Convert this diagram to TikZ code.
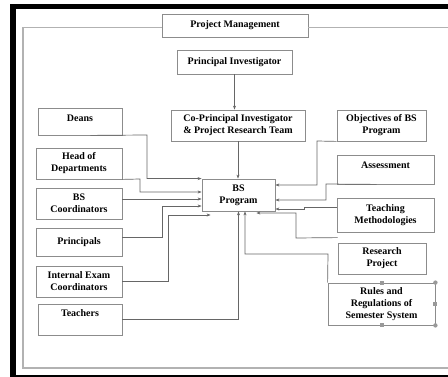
\documentclass[tikz,border=0pt]{standalone}
\usepackage{fontspec}
\setmainfont{Liberation Serif}
\usetikzlibrary{arrows.meta}

\begin{document}
\begin{tikzpicture}[x=1pt, y=-1pt,
  box/.style={rectangle, draw=black!45, line width=0.8pt, fill=white, inner sep=0pt, align=center, font=\bfseries\fontsize{10}{12}\selectfont},
  topbox/.style={box, text depth=#1},
  conn/.style={draw=black!60, line width=0.7pt},
  frame/.style={draw=black!30, line width=1.3pt},
  handle/.style={fill=black!40},
  >={Stealth[length=4pt, width=3pt]}
]
  \useasboundingbox (0,0) rectangle (448,377);

  % Outer black border
  \fill[black] (10,4) rectangle (448,9.5);
  \fill[black] (10,4) rectangle (15.5,377);
  \fill[black] (10,375.5) rectangle (448,377);

  % Top of the chart
  \node[box, minimum width=146pt, minimum height=23pt] (pm) at (235,25.5) {Project Management};
  \node[box, minimum width=115pt, minimum height=24pt] (pi) at (234.5,62) {Principal Investigator};
  \node[box, minimum width=134pt, minimum height=31pt] (copi) at (238,125.5) {Co-Principal Investigator\\\& Project Research Team};

  % Gray frame
  \draw[frame] ([yshift=-2pt]pm.west) -| (23,368) -- (448,368);
  \draw[frame] ([yshift=-2pt]pm.east) -- (448,27.5);

  % Centre
  \node[box, minimum width=73pt, minimum height=32pt] (bsp) at (238.5,195) {BS\\Program};

  % Left column
  \node[topbox=7pt, minimum width=84pt, minimum height=27pt] (deans) at (80,121.5) {Deans};
  \node[box, minimum width=86pt, minimum height=31pt] (hod) at (79,163.5) {Head of\\Departments};
  \node[box, minimum width=86pt, minimum height=31pt] (bsc) at (79,203.5) {BS\\Coordinators};
  \node[box, minimum width=86pt, minimum height=28pt] (princ) at (79,242) {Principals};
  \node[box, minimum width=86pt, minimum height=31pt] (iec) at (79,281.5) {Internal Exam\\Coordinators};
  \node[topbox=13pt, minimum width=84pt, minimum height=31pt] (teach) at (80,319.5) {Teachers};

  % Right column
  \node[box, minimum width=89pt, minimum height=31pt] (obj) at (381.5,125.5) {Objectives of BS\\Program};
  \node[topbox=9pt, minimum width=97pt, minimum height=29pt] (assess) at (385.5,169.5) {Assessment};
  \node[box, minimum width=97pt, minimum height=34pt] (tm) at (385.5,215) {Teaching\\Methodologies};
  \node[box, minimum width=88pt, minimum height=31pt] (rp) at (382,258.5) {Research\\Project};
  \node[box, minimum width=107pt, minimum height=42pt] (rules) at (381.5,304) {Rules and\\Regulations of\\Semester System};

  % Selection handles
  \foreach \a in {north, east, south}
    \fill[handle] ([shift={(-2,-2)}]rules.\a) rectangle ([shift={(2,2)}]rules.\a);
  \foreach \a in {north east, south east}
    \fill[handle] (rules.\a) circle (2.2pt);

  % Top arrows
  \draw[conn, ->] (pi.south) -- (pi.south |- copi.north);
  \draw[conn, ->] (copi.south) -- (copi.south |- bsp.north);

  % Left arrows
  \draw[conn, ->] ([xshift=-32pt]deans.south east) -- (147,135) |- (bsp.north west);
  \draw[conn, ->] (hod.south east) -- (140,179) |- ([yshift=3pt]bsp.west);
  \draw[conn, ->] ([yshift=-4pt]bsp.west -| bsc.east) -- ([yshift=-4pt]bsp.west);
  \draw[conn, ->] ([yshift=5pt]princ.east) -- (162,237) |- ([yshift=-11pt]bsp.west);
  \draw[conn, ->] (iec.east) -- (168,281.5) |- ([xshift=9pt, yshift=-20pt]bsp.west);
  \draw[conn, ->] (teach.east) -| (bsp.south);
  \draw[conn, ->] (rules.north west) -- (328,254) -| ([xshift=6.5pt]bsp.south);

  % Right arrows
  \draw[conn, ->] (obj.south west) -- (317,141) |- ([yshift=10pt]bsp.east);
  \draw[conn, ->] ([xshift=40pt]assess.south west) -- (326,184) |- ([yshift=-5pt]bsp.east);
  \draw[conn, ->] ([yshift=8pt]tm.west) -- ++(-32,0) |- ([yshift=-14pt]bsp.east);
  \draw[conn, ->] ([yshift=5pt]rp.north west) -- (296,238) |- ([xshift=-19pt, yshift=-18pt]bsp.east);
\end{tikzpicture}
\end{document}
